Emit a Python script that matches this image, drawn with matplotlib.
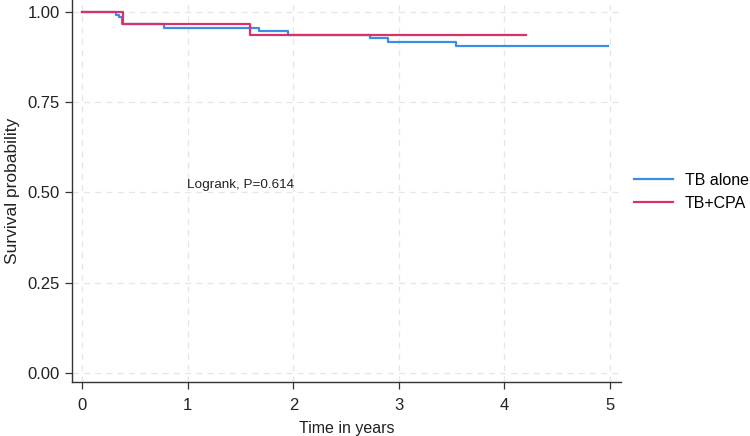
import matplotlib
matplotlib.use("Agg")
import matplotlib.pyplot as plt

plt.rcParams['font.family'] = ['Liberation Sans', 'DejaVu Sans']

# Kaplan-Meier step data (time in years, survival probability)
tb_alone_t = [0.0, 0.32, 0.35, 0.375, 0.77, 1.67, 1.95, 2.73, 2.90, 3.54, 4.98]
tb_alone_s = [1.0, 0.993, 0.985, 0.967, 0.957, 0.947, 0.936, 0.927, 0.916, 0.905, 0.905]
tb_cpa_t = [0.0, 0.39, 1.59, 4.20]
tb_cpa_s = [1.0, 0.967, 0.936, 0.936]

x_ticks = [0, 1, 2, 3, 4, 5]
y_ticks = [0.0, 0.25, 0.5, 0.75, 1.0]
y_labels = ["0.00", "0.25", "0.50", "0.75", "1.00"]

fig = plt.figure(figsize=(7.5, 4.36), dpi=100)
ax = fig.add_axes([72.3 / 750, 53.7 / 436, 548.7 / 750, 382.3 / 436])

blue = "#3a8ee6"
red = "#d8326b"
ax.step(tb_alone_t, tb_alone_s, where="post", color=blue, lw=1.6, label="TB alone")
ax.step(tb_cpa_t, tb_cpa_s, where="post", color=red, lw=1.6, label="TB+CPA")

ax.set_xlim(-0.095, 5.104)
ax.set_ylim(-0.0258, 1.0332)
ax.set_xticks(x_ticks)
ax.set_yticks(y_ticks)
ax.set_yticklabels(y_labels)
ax.grid(True, color="#e6e6e6", linestyle=(0, (5, 4)), lw=0.9)
ax.set_axisbelow(True)

for s in ["top", "right"]:
    ax.spines[s].set_visible(False)
for s in ["left", "bottom"]:
    ax.spines[s].set_color("#333333")
    ax.spines[s].set_linewidth(1.0)
ax.tick_params(axis="both", direction="out", length=5, width=0.9, color="#333333",
               labelsize=12, labelcolor="#222222")
ax.tick_params(axis="x", pad=6)
ax.tick_params(axis="y", pad=4)

ax.set_xlabel("Time in years", fontsize=11.5, color="#222222", labelpad=6)
ax.set_ylabel("Survival probability", fontsize=12.5, color="#222222", labelpad=5)

ax.text(0.99, 0.52, "Logrank, P=0.614", fontsize=9.7, color="#222222", ha="left", va="center")

leg = ax.legend(loc="center left", bbox_to_anchor=(620 / 750, (436 - 192) / 436),
                bbox_transform=fig.transFigure, frameon=False,
                fontsize=11.5, handlelength=2.4, handletextpad=0.75, labelspacing=0.5,
                borderpad=0.4)

fig.savefig("out.png", dpi=100)
